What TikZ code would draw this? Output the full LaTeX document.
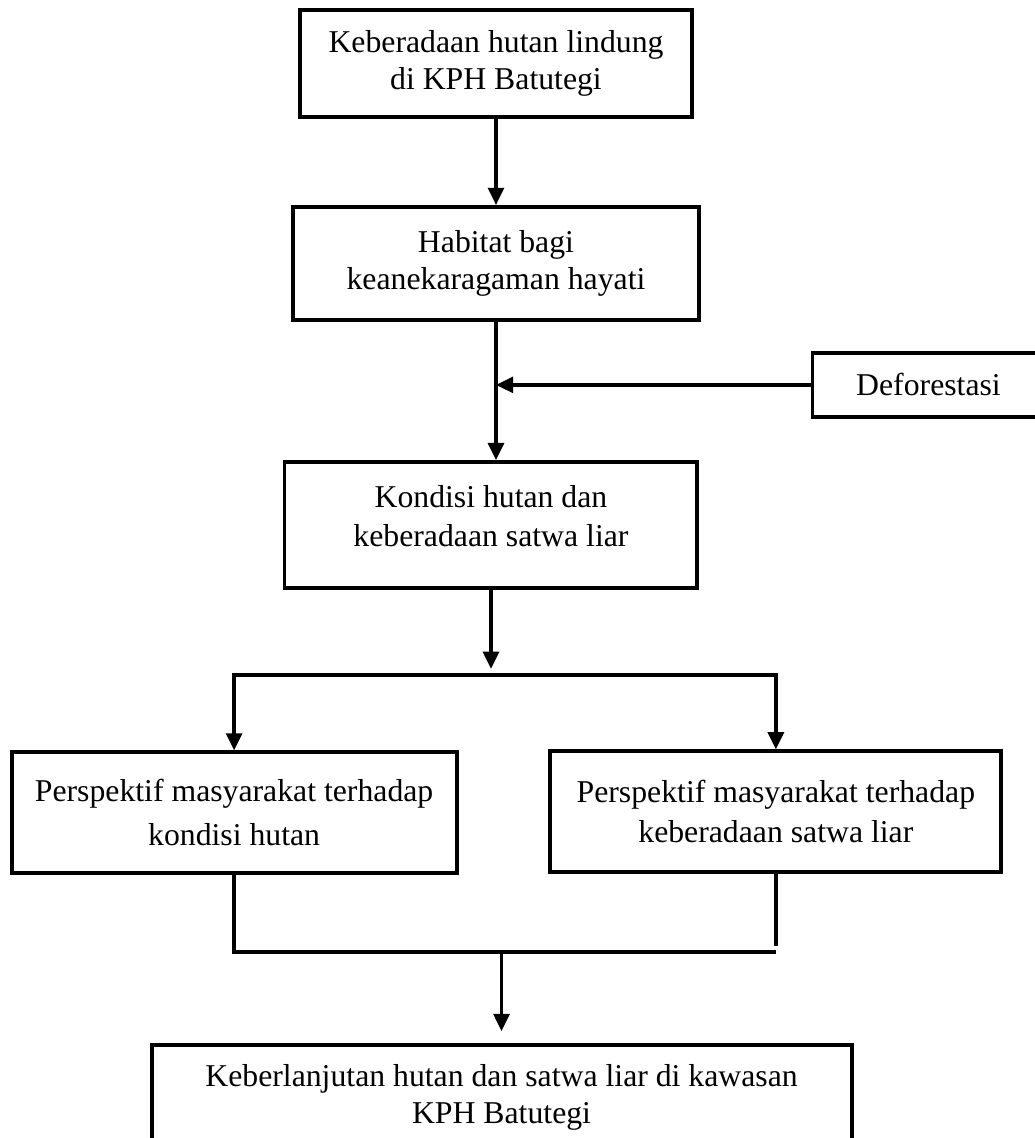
\documentclass[tikz,border=0pt]{standalone}
\usepackage{fontspec}
\setmainfont{Liberation Serif}
\usetikzlibrary{arrows.meta,positioning}
\tikzset{
  basic/.style  = {draw, line width=1.5pt, rectangle, align=center, inner sep=2pt,
                   font=\fontsize{12}{14}\selectfont},
  main/.style   = {basic},
  side/.style   = {basic, minimum width=87.7pt, minimum height=24.2pt},
  branch/.style = {basic, minimum height=45.5pt},
  final/.style  = {basic, minimum width=264.6pt, minimum height=39.7pt}
}

\begin{document}
\begin{tikzpicture}[
  node distance=75.6pt,
  >={Triangle[length=6.5pt,width=6pt]},
  line width=1.3pt]

% batas gambar
\useasboundingbox (0,0) rectangle (391.2pt,-430.2pt);
\clip (0,0) rectangle (391.2pt,-430.2pt);

% rantai utama
\node[main, minimum width=148.2pt, minimum height=40.4pt] (k1) at (187.5pt,-24pt)
  {Keberadaan hutan lindung\\di KPH Batutegi};
\node[main, below of = k1, minimum width=153.8pt, minimum height=42.7pt] (k2)
  {Habitat bagi\\keanekaragaman hayati};
\node[main, below of = k2, node distance=98.9pt, xshift=-1.9pt,
      minimum width=156.1pt, minimum height=47.6pt,
      font=\fontsize{12}{15}\selectfont, text depth=7pt] (k3)
  {Kondisi hutan dan\\keberadaan satwa liar};
\node[side, below of = k2, node distance=45.9pt, xshift=163.5pt] (kd) {Deforestasi};

% dua perspektif
\node[branch, below of = k3, node distance=108.7pt, xshift=-97.1pt, minimum width=168.2pt,
      font=\fontsize{12}{16.5}\selectfont] (p1)
  {Perspektif masyarakat terhadap\\kondisi hutan};
\node[branch, below of = k3, node distance=108.3pt, xshift=107.7pt, minimum width=170.5pt,
      font=\fontsize{12}{15}\selectfont] (p2)
  {Perspektif masyarakat terhadap\\keberadaan satwa liar};

% hasil akhir
\node[final, below of = k3, node distance=216.4pt, xshift=4pt] (k4)
  {Keberlanjutan hutan dan satwa liar di kawasan\\KPH Batutegi};

\coordinate (cab) at ([yshift=-32.1pt]k3.south);
\coordinate (cgab) at ([yshift=-29.1pt]p1.south);

\draw[->] (k1.south) -- (k1.south |- k2.north);
\draw[->] (k2.south) -- (k2.south |- k3.north);
\draw[->] (kd.west) -- (kd.west -| k2.south);

\draw[->] (k3.south) -- ([yshift=2.3pt]cab);
\draw (p1.north |- cab) -- (p2.north |- cab);
\draw[->] (cab) -| (p1);
\draw[->] (cab) -| (p2);

\draw (p1.south) |- (p2.south |- cgab);
\draw ([yshift=1pt]p2.south) -- ([yshift=2.3pt]p2.south |- cgab);
\draw[->] (k4.north |- cgab) -- ([yshift=4.5pt]k4.north);
\end{tikzpicture}
\end{document}
